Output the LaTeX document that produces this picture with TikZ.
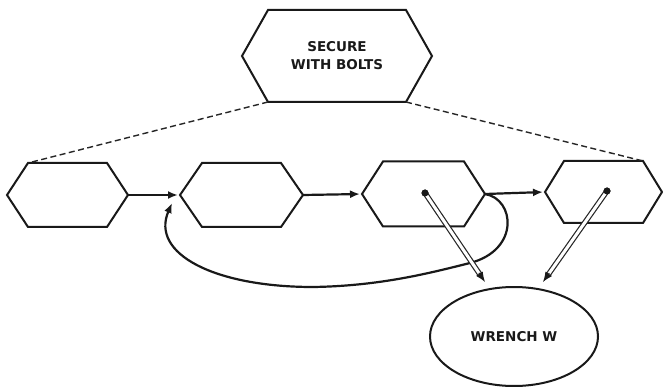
\documentclass[tikz,border=0pt]{standalone}
\usepackage{fontspec}
\newfontfamily\lblfont{DejaVu Sans}
\usetikzlibrary{arrows.meta,shapes.geometric,calc}
\newcommand\hexoutline[2]{%
  \coordinate (#1-nw) at ([xshift=#2]#1.north west);
  \coordinate (#1-ne) at ([xshift=-#2]#1.north east);
  \coordinate (#1-sw) at ([xshift=#2]#1.south west);
  \coordinate (#1-se) at ([xshift=-#2]#1.south east);
  \draw[hexline] (#1.west) -- (#1-nw) -- (#1-ne) -- (#1.east) -- (#1-se) -- (#1-sw) -- cycle;}
\begin{document}
\begin{tikzpicture}[x=1pt,y=-1pt,
  hexbox/.style={draw=none,inner sep=0pt,outer sep=0pt,rectangle},
  hexline/.style={draw=black!90,line width=2pt,line join=miter},
  lbl/.style={font=\lblfont\bfseries\fontsize{13.5}{18}\selectfont,text=black!90},
  flow/.style={draw=black!90,line width=2.2pt,-{Latex[length=10pt,width=8pt]},shorten >=2pt},
  dashlink/.style={draw=black!85,line width=1.4pt,dash pattern=on 6pt off 3.5pt},
  dotmark/.style={circle,fill=black!90,inner sep=0pt,minimum size=7pt},
  shaft/.style={draw=black!85,line width=1.2pt,double=white,double distance=3pt},
  shafthead/.style={draw=black!90,line width=1pt,-{Latex[length=10pt,width=8pt]}},
  wrench/.style={ellipse,draw=black!90,line width=2pt,inner sep=0pt,minimum width=168pt,minimum height=99pt}]
\useasboundingbox[fill=white] (0,0) rectangle (663,387);

% top hexagon
\node[hexbox,lbl,align=center,minimum width=190pt,minimum height=92pt] (T) at (337,56) {SECURE\\WITH BOLTS};
\hexoutline{T}{26pt}

% row of hexagons
\node[hexbox,minimum width=121pt,minimum height=64pt] (H1) at (67.5,195) {};
\node[hexbox,minimum width=123pt,minimum height=64pt] (H2) at (241.5,195) {};
\node[hexbox,minimum width=123pt,minimum height=65pt] (H3) at (423.5,194) {};
\node[hexbox,minimum width=117pt,minimum height=62pt] (H4) at (603.5,192) {};
\hexoutline{H1}{21pt}
\hexoutline{H2}{22pt}
\hexoutline{H3}{21pt}
\hexoutline{H4}{19pt}

% dashed links
\draw[dashlink] (T-sw) -- (H1-nw);
\draw[dashlink] (T-se) -- (H4-ne);

% flow arrows
\draw[flow] (H1.east) -- (H2.west);
\draw[flow] (H2.east) -- (H3.west);
\draw[flow] (H3.east) -- (H4.west);

% loop back
\coordinate (c1) at (470,263);
\coordinate (c2) at (313,287);
\coordinate (H2in) at ($(H2.west)+(-8,8)$);
\draw[flow,shorten >=0pt] (H3.east) .. controls +(30,5) and +(50,-13) .. (c1)
  .. controls +(-40,10) and +(67,-1) .. (c2)
  .. controls +(-98,0) and +(-22,51) .. (H2in);

% wrench
\node[wrench,lbl] (W) at (514,336.5) {WRENCH W};

% dots and wrench arrows
\node[dotmark] (d3) at (425,193) {};
\node[dotmark] (d4) at (607,191) {};
\coordinate (e3) at (485,282);
\coordinate (e4) at (543,282);
\draw[shaft] (d3.center) -- ($(e3)!8pt!(d3)$);
\draw[shafthead] ($(e3)!11pt!(d3)$) -- (e3);
\draw[shaft] (d4.center) -- ($(e4)!8pt!(d4)$);
\draw[shafthead] ($(e4)!11pt!(d4)$) -- (e4);
\node[dotmark] at (d3) {};
\node[dotmark] at (d4) {};
\end{tikzpicture}
\end{document}
